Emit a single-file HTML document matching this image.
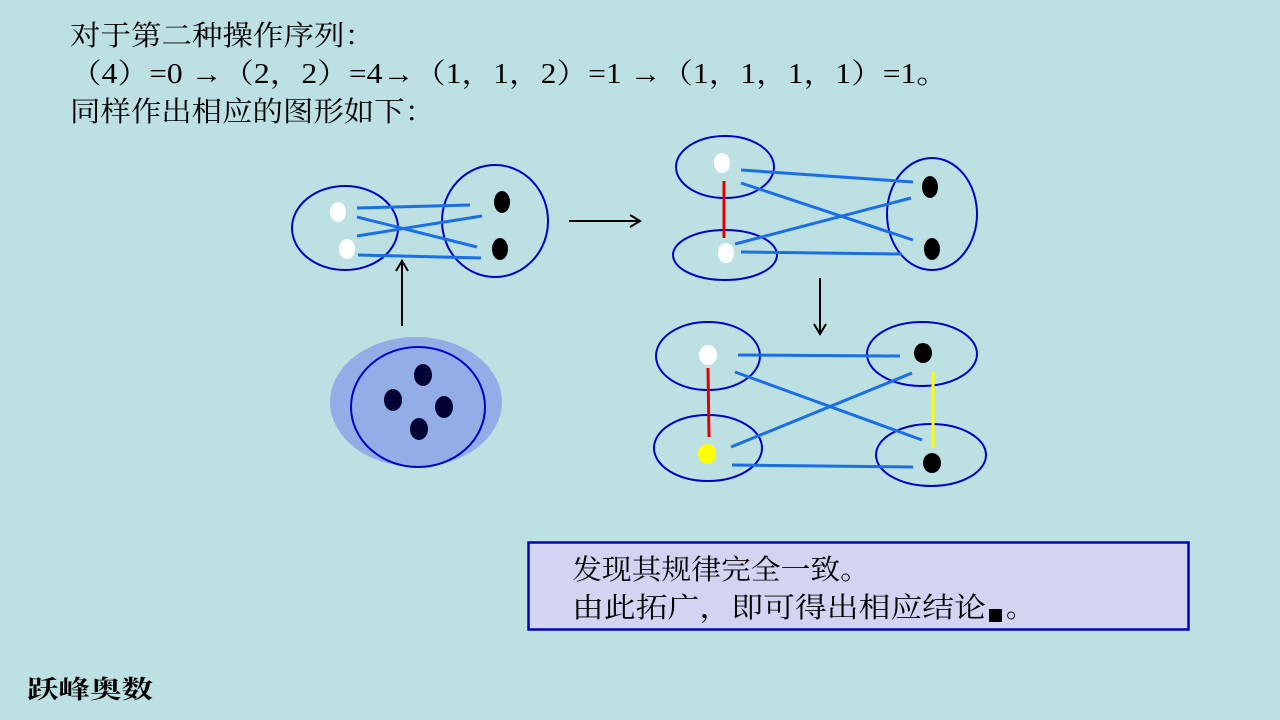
<!DOCTYPE html>
<html><head><meta charset="utf-8"><style>
html,body{margin:0;padding:0;background:#bde0e3;}
svg{display:block}
text{font-family:"Liberation Serif","Noto Serif CJK SC",serif;fill:#000;}
</style></head><body>
<svg width="1280" height="720" viewBox="0 0 1280 720" xmlns="http://www.w3.org/2000/svg">
<rect width="1280" height="720" fill="#bde0e3"/>
<text x="70" y="45" font-size="28" textLength="305" lengthAdjust="spacingAndGlyphs">对于第二种操作序列：</text>
<text x="70" y="83" font-size="28" textLength="878" lengthAdjust="spacingAndGlyphs">（4）=0 →（2，2）=4→（1，1，2）=1 →（1，1，1，1）=1。</text>
<text x="70" y="121" font-size="28" textLength="365" lengthAdjust="spacingAndGlyphs">同样作出相应的图形如下：</text>

<g fill="none" stroke="#0000cc" stroke-width="2">
<ellipse cx="345" cy="228" rx="53" ry="42"/>
<ellipse cx="495" cy="221" rx="53" ry="56"/>
</g>
<g stroke="#1a6ee8" stroke-width="3">
<line x1="357" y1="208" x2="470" y2="205"/>
<line x1="357" y1="217" x2="477" y2="247"/>
<line x1="357" y1="236" x2="482" y2="216"/>
<line x1="358" y1="255" x2="481" y2="258"/>
</g>
<ellipse cx="338" cy="212" rx="8" ry="10" fill="#fff"/>
<ellipse cx="347" cy="249" rx="8" ry="10" fill="#fff"/>
<ellipse cx="502" cy="202" rx="8" ry="11" fill="#000"/>
<ellipse cx="500" cy="249" rx="8" ry="11" fill="#000"/>

<g stroke="#000" stroke-width="2" fill="none">
<line x1="569" y1="221" x2="639" y2="221"/><polyline points="630,215 640,221 630,227"/>
<line x1="402" y1="326" x2="402" y2="262"/><polyline points="396,271 402,261 408,271"/>
<line x1="820" y1="278" x2="820" y2="333"/><polyline points="814,324 820,334 826,324"/>
</g>

<ellipse cx="416" cy="402" rx="86" ry="65" fill="#93aee6"/>
<ellipse cx="418" cy="407" rx="67" ry="60" fill="none" stroke="#0000cc" stroke-width="2"/>
<g fill="#000033">
<ellipse cx="423" cy="375" rx="9" ry="11"/>
<ellipse cx="393" cy="400" rx="9" ry="11"/>
<ellipse cx="444" cy="407" rx="9" ry="11"/>
<ellipse cx="419" cy="429" rx="9" ry="11"/>
</g>

<g fill="none" stroke="#0000cc" stroke-width="2">
<ellipse cx="725" cy="167" rx="49" ry="31"/>
<ellipse cx="725" cy="255" rx="52" ry="25"/>
<ellipse cx="932" cy="214" rx="45" ry="56"/>
</g>
<g stroke="#1a6ee8" stroke-width="3">
<line x1="741" y1="170" x2="913" y2="182"/>
<line x1="741" y1="183" x2="913" y2="240"/>
<line x1="735" y1="244" x2="911" y2="198"/>
<line x1="741" y1="252" x2="902" y2="254"/>
</g>
<line x1="724" y1="181" x2="724" y2="238" stroke="#e00000" stroke-width="3"/>
<ellipse cx="722" cy="163" rx="8" ry="10" fill="#fff"/>
<ellipse cx="726" cy="253" rx="8" ry="10" fill="#fff"/>
<ellipse cx="930" cy="187" rx="8" ry="11" fill="#000"/>
<ellipse cx="932" cy="249" rx="8" ry="11" fill="#000"/>

<g fill="none" stroke="#0000cc" stroke-width="2">
<ellipse cx="708" cy="356" rx="52" ry="34"/>
<ellipse cx="708" cy="448" rx="54" ry="33"/>
<ellipse cx="922" cy="354" rx="55" ry="32"/>
<ellipse cx="931" cy="455" rx="55" ry="31"/>
</g>
<g stroke="#1a6ee8" stroke-width="3">
<line x1="738" y1="355" x2="900" y2="356"/>
<line x1="735" y1="372" x2="922" y2="440"/>
<line x1="731" y1="447" x2="912" y2="373"/>
<line x1="732" y1="465" x2="913" y2="467"/>
</g>
<line x1="708" y1="368" x2="709" y2="437" stroke="#e00000" stroke-width="3"/>
<line x1="933" y1="372" x2="933" y2="448" stroke="#ffff00" stroke-width="3"/>
<ellipse cx="708" cy="355" rx="9" ry="10" fill="#fff"/>
<ellipse cx="707" cy="454" rx="9" ry="10" fill="#ffff00"/>
<ellipse cx="923" cy="353" rx="9" ry="10" fill="#000"/>
<ellipse cx="932" cy="463" rx="9" ry="10" fill="#000"/>

<rect x="528.5" y="542.5" width="660" height="87" fill="#d2d4f2" stroke="#0000cc" stroke-width="2.5"/>
<text x="572" y="579" font-size="28" textLength="298" lengthAdjust="spacingAndGlyphs">发现其规律完全一致。</text>
<text x="572" y="617" font-size="28" textLength="414" lengthAdjust="spacingAndGlyphs">由此拓广，即可得出相应结论</text>
<rect x="989" y="609" width="13" height="13" fill="#000"/>
<text x="1006" y="617" font-size="28">。</text>

<text x="27" y="698" font-size="25" font-weight="bold" textLength="126" lengthAdjust="spacingAndGlyphs">跃峰奥数</text>
</svg>
</body></html>
